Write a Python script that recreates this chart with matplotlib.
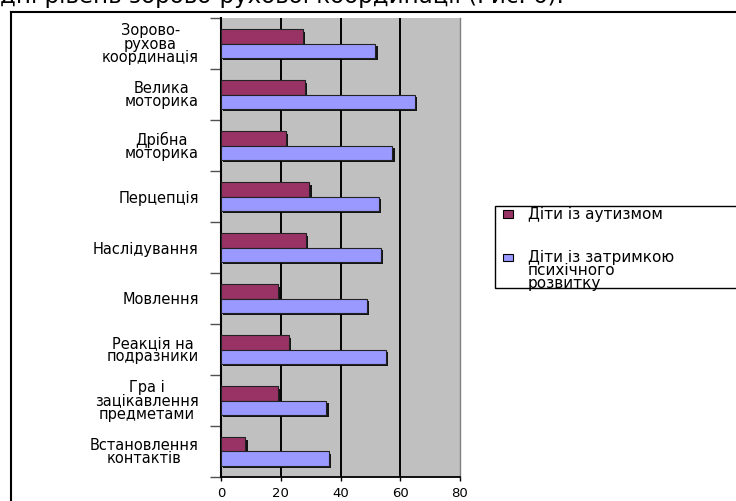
import numpy as np
import matplotlib
matplotlib.use('Agg')
from matplotlib import pyplot as plt
from matplotlib.patches import Rectangle
from matplotlib.lines import Line2D
import matplotlib.patheffects as pe

categories = [
    'Зорово-\nрухова\nкоординація',
    'Велика\nмоторика',
    'Дрібна\nмоторика',
    'Перцепція',
    'Наслідування',
    'Мовлення',
    'Реакція на\nподразники',
    'Гра і\nзацікавлення\nпредметами',
    'Встановлення\nконтактів',
]
autism = [27.3, 28.0, 21.6, 29.6, 28.5, 19.2, 22.6, 19.2, 8.2]
delay = [51.7, 65.0, 57.4, 52.9, 53.4, 48.8, 55.2, 35.3, 36.0]
series_names = ['Діти із аутизмом', 'Діти із затримкою\nпсихічного\nрозвитку']
series_colors = ['#993366', '#9999FF']
x_ticks = [0, 20, 40, 60, 80]
caption = 'дні рівень зорово-рухової координації (Рис. 6).'

W, H = 736, 501
plt.rcParams['font.family'] = ['DejaVu Sans']
fig = plt.figure(figsize=(W / 100, H / 100), dpi=100)


def fx(x):
    return x / W


def fy(y):
    return 1 - y / H


# plot area in pixels: left 221, right 460, top 18, bottom 477
ax = fig.add_axes([fx(221), fy(477), fx(460) - fx(221), fy(18) - fy(477)])
ax.set_facecolor('#C0C0C0')

y = np.arange(len(categories))
bh = 0.275
shadow = [pe.SimplePatchShadow(offset=(1.5, -1.5), shadow_rgbFace='black', alpha=0.9), pe.Normal()]
ax.barh(y - bh / 2, autism, height=bh, color=series_colors[0], edgecolor='#222222',
        linewidth=0.8, zorder=3, path_effects=shadow)
ax.barh(y + bh / 2, delay, height=bh, color=series_colors[1], edgecolor='#222222',
        linewidth=0.8, zorder=3, path_effects=shadow)

for v in x_ticks[1:-1]:
    ax.axvline(v, color='black', lw=1.4, zorder=1)

ax.set_xlim(x_ticks[0], x_ticks[-1])
ax.set_ylim(len(categories) - 0.5, -0.5)
ax.set_xticks(x_ticks)
ax.set_xticklabels([str(t) for t in x_ticks], fontsize=9.5)
ax.tick_params(axis='x', length=3, width=1, color='black', pad=4)

ax.set_yticks(y)
ax.set_yticklabels(categories, fontsize=10.5, linespacing=0.85, ha='right', multialignment='center')
ax.set_yticks(np.arange(len(categories) + 1) - 0.5, minor=True)
ax.tick_params(axis='y', which='major', length=0, pad=16)
ax.tick_params(axis='y', which='minor', length=8, width=1, color='#505050')

ax.spines['left'].set_linewidth(1.5)
ax.spines['bottom'].set_linewidth(1.3)
ax.spines['right'].set_color('#808080')
ax.spines['right'].set_linewidth(1)
ax.spines['top'].set_visible(False)

# outer chart frame (left and top edges visible)
fig.add_artist(Line2D([fx(11), fx(11)], [fy(12), 0], color='black', lw=1.5))
fig.add_artist(Line2D([fx(11), 1], [fy(12), fy(12)], color='black', lw=1.5))

# caption, cut off at the top as in the source page
fig.text(0, fy(3.5), caption, fontsize=16.5, va='baseline', ha='left')

# legend
fig.add_artist(Rectangle((fx(495), fy(288)), fx(800) - fx(495), fy(206) - fy(288),
                         transform=fig.transFigure, facecolor='white', edgecolor='black', lw=1))
legend_y = [214, 257]
for name, col, ly in zip(series_names, series_colors, legend_y):
    fig.add_artist(Rectangle((fx(503), fy(ly + 3.5)), fx(10), fx(7) * W / H,
                             transform=fig.transFigure, facecolor=col, edgecolor='black', lw=0.8))
    if '\n' in name:
        fig.text(fx(528), fy(ly - 7), name, fontsize=11, va='top', ha='left', linespacing=0.85)
    else:
        fig.text(fx(528), fy(ly), name, fontsize=11, va='center', ha='left')

fig.savefig('out.png', dpi=100)
